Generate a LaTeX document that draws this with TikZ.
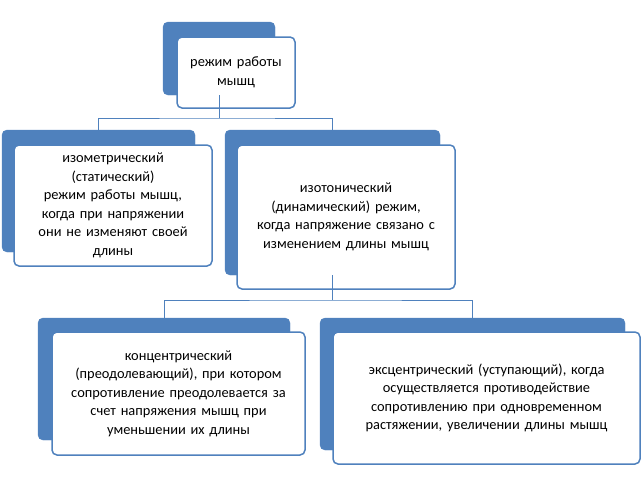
\documentclass[tikz,border=0pt]{standalone}
\usepackage{fontspec}
\setmainfont{Carlito}
\begin{document}
\begin{tikzpicture}[x=1pt,y=-1pt,
  back/.style={fill=blu,draw=blu,rounded corners=5pt,inner sep=0pt},
  front/.style={fill=white,draw=blu,line width=1.5pt,rounded corners=5pt,align=center,inner sep=3pt,font=\fontsize{14.4}{18.5}\selectfont},
  conn/.style={draw=blu,line width=1pt}]
\definecolor{blu}{HTML}{4F81BD}
\useasboundingbox (0,0) rectangle (644,485);
% top
\node[back,minimum width=112pt,minimum height=73pt] (tb) at (219,58.5) {};
\node[front,minimum width=118pt,minimum height=71pt,text width=110pt] (t) at (236,72.5) {режим работы\\мышц};
% second row
\node[back,minimum width=193pt,minimum height=122pt] (lb) at (98.5,191) {};
\node[front,minimum width=198pt,minimum height=121pt,text width=190pt] (l) at (113,205.5) {изометрический\\(статический)\\режим работы мышц,\\когда при напряжении\\они не изменяют своей\\длины};
\node[back,minimum width=215pt,minimum height=145pt] (rb) at (332.5,202.5) {};
\node[front,minimum width=218pt,minimum height=144pt,text width=210pt] (r) at (346,217) {изотонический\\(динамический) режим,\\когда напряжение связано с\\изменением длины мышц};
% third row
\node[back,minimum width=252pt,minimum height=122pt] (blb) at (164,379) {};
\node[front,minimum width=253pt,minimum height=123pt,text width=246pt] (bl) at (178.5,393.5) {концентрический\\(преодолевающий), при котором\\сопротивление преодолевается за\\счет напряжения мышц при\\уменьшении их длины};
\node[back,minimum width=305pt,minimum height=132pt] (brb) at (472.5,384) {};
\node[front,minimum width=307pt,minimum height=132pt,text width=300pt] (br) at (486.5,398) {эксцентрический (уступающий), когда\\осуществляется противодействие\\сопротивлению при одновременном\\растяжении, увеличении длины мышц};
% connectors
\coordinate (j1) at (219,118);
\coordinate (j2) at (332.5,300);
\draw[conn] (tb.south) -- (j1);
\draw[conn] (lb.north) |- (j1) -| (rb.north);
\draw[conn] (rb.south) -- (j2);
\draw[conn] (blb.north) |- (j2) -| (brb.north);
\end{tikzpicture}
\end{document}
